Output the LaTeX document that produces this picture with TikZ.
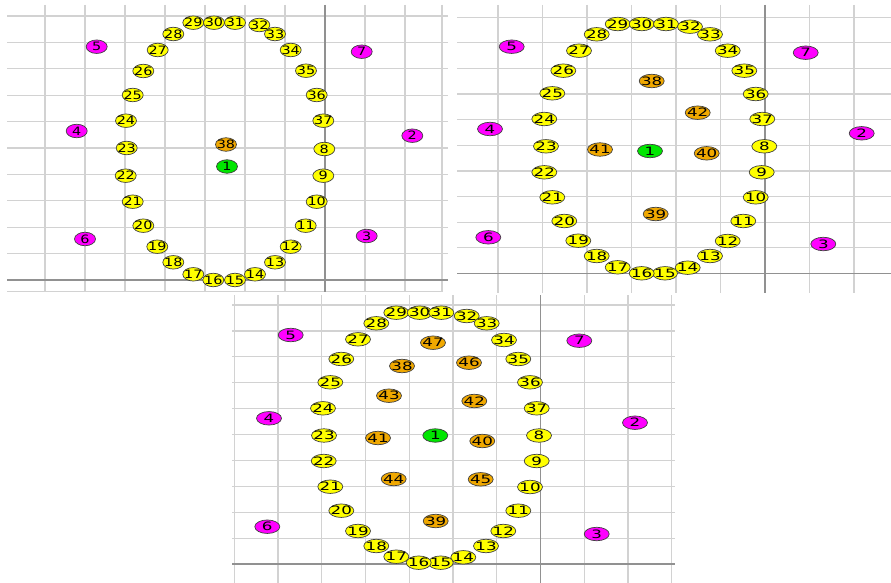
\documentclass[tikz,border=0pt]{standalone}
\usepackage{fontspec}
\usetikzlibrary{shapes.geometric}
\newfontfamily\numA[FakeStretch=1.25]{DejaVu Sans}
\newfontfamily\numB[FakeStretch=1.45]{DejaVu Sans}
\definecolor{gridL}{RGB}{210,210,210}
\definecolor{gridD}{RGB}{145,145,145}
\definecolor{ptY}{RGB}{255,255,0}
\definecolor{ptO}{RGB}{240,168,0}
\definecolor{ptG}{RGB}{0,230,0}
\definecolor{ptM}{RGB}{255,0,255}
\newcommand{\numlbl}[1]{\makebox[0pt]{#1}}

\begin{document}
\begin{tikzpicture}[x=1pt,y=-1pt,
  pt/.style={ellipse,draw=black!75,line width=0.7pt,inner sep=0pt,minimum height=13.5pt},
  ptA/.style={pt,minimum width=21pt,font=\numA\fontsize{11.5}{12}\selectfont},
  ptB/.style={pt,minimum width=25pt,font=\numB\fontsize{11.5}{12}\selectfont},
  gl/.style={gridL,line width=1.2pt},ga/.style={gridD,line width=1.2pt}]
\useasboundingbox (0,0) rectangle (891,583);
\fill[white] (0,0) rectangle (891,583);
% left plot: grid
\foreach \k in {0,...,9} \draw[gl] (45+40*\k,5) -- (45+40*\k,292);
\draw[gl] (442,5) -- (442,292);
\foreach \k in {0,...,9} \draw[gl] (7,16+26.4*\k) -- (448,16+26.4*\k);
\draw[gl] (7,291.5) -- (442,291.5);
\draw[ga] (325,5) -- (325,292); \draw[ga] (7,280) -- (448,280);
% left plot: points
\foreach \n/\x/\y in {8/324.3/149,9/323.3/175.7,10/316.7/201.7,11/305.7/225.7,12/290.7/246.7,13/275/262.3,
  14/255/274.3,15/235/280,16/213.3/280,17/193.3/274.3,18/173.3/262.3,19/157.3/246.7,20/143.3/225.7,
  21/132.7/201.7,22/125.7/175.7,23/126.7/148,24/126/120.7,25/132.7/95,26/143.3/71,27/157.7/50,
  28/173.3/34,29/193.3/22.7,30/214/22.7,31/235/22.7,32/259.3/25,33/275/34,34/290.7/50,35/306/70.7,
  36/316.7/95,37/323.3/120.7}
  \node[ptA,fill=ptY] (a\n) at (\x,\y) {\numlbl{\n}};
\foreach \n/\x/\y in {2/412.3/135.7,3/366.7/236,4/76.7/131,5/96.7/46.7,6/85/239,7/361.7/51.7}
  \node[ptA,fill=ptM] (a\n) at (\x,\y) {\numlbl{\n}};
\node[ptA,fill=ptO] (a38) at (226,144.5) {\numlbl{38}};
\node[ptA,fill=ptG] (a1) at (227,166.5) {\numlbl{1}};
% right plot: grid
\foreach \k in {0,...,8} \draw[gl] (498+44.5*\k,5) -- (498+44.5*\k,293);
\foreach \k in {0,...,9} \draw[gl] (457,17.3+25.6*\k) -- (891,17.3+25.6*\k);
\draw[ga] (765,5) -- (765,293); \draw[ga] (457,273.3) -- (891,273.3);
% right plot: points
\foreach \n/\x/\y in {8/764.3/146.3,9/761.7/172.3,10/755.7/197.3,11/743.3/221,12/727.7/241,13/710/256,
  14/687.7/267.7,15/665/273.3,16/641.7/273.3,17/617.7/267.3,18/596.7/256,19/578.3/240.7,20/564.3/221,
  21/552.3/197.3,22/544.3/172.3,23/546/146.3,24/544.3/119,25/552.3/93.3,26/563.3/70.7,27/579/50.7,
  28/596.7/34.3,29/617.7/24,30/641.7/24,31/666/24,32/690/26.7,33/710/34.3,34/727.7/50.7,35/744.3/70.7,
  36/755.7/94,37/762.3/119}
  \node[ptB,fill=ptY] (b\n) at (\x,\y) {\numlbl{\n}};
\foreach \n/\x/\y in {2/861.7/133.3,3/823.3/244,4/490/129,5/511.7/46.7,6/488.3/237.3,7/805.7/52.7}
  \node[ptB,fill=ptM] (b\n) at (\x,\y) {\numlbl{\n}};
\foreach \n/\x/\y in {38/651.7/81,39/655.7/214,40/706.7/153.3,41/600/149.5,42/697.7/112.7}
  \node[ptB,fill=ptO] (b\n) at (\x,\y) {\numlbl{\n}};
\node[ptB,fill=ptG] (b1) at (650,151) {\numlbl{1}};
% bottom plot: grid
\foreach \k in {-1,...,9} \draw[gl] (278+43.74*\k,295) -- (278+43.74*\k,583);
\foreach \k in {0,...,9} \draw[gl] (232,305+25.9*\k) -- (675,305+25.9*\k);
\draw[ga] (540.4,295) -- (540.4,583); \draw[ga] (232,564) -- (675,564);
% bottom plot: points
\foreach \n/\x/\y in {8/539/435.5,9/536.7/461,10/530/487,11/518.3/510.7,12/503.3/531,13/486/546,
  14/463.3/557.3,15/440.7/562.7,16/418.7/562.7,17/396.3/556.7,18/376.3/546,19/358/531,20/341.3/510.7,
  21/330.3/486.7,22/323.7/461,23/324/435.5,24/323/408.3,25/330.3/382.3,26/341.3/359,27/358/339.3,
  28/376.3/323.3,29/396.3/312.7,30/419.7/312.7,31/441.3/312.7,32/466.7/316,33/486.7/323.3,34/504/340,
  35/518.3/359,36/530/382.3,37/536.7/408.3}
  \node[ptB,fill=ptY] (c\n) at (\x,\y) {\numlbl{\n}};
\foreach \n/\x/\y in {2/635/422.7,3/596.7/534,4/269/418.3,5/290.7/335,6/267.3/526.7,7/579.3/340.7}
  \node[ptB,fill=ptM] (c\n) at (\x,\y) {\numlbl{\n}};
\foreach \n/\x/\y in {38/402/366,39/435.7/521,40/482.3/441,41/378/438,42/474.3/401,43/389/395.7,
  44/393.7/479,45/480.7/479.3,46/469/362.7,47/433/342.7}
  \node[ptB,fill=ptO] (c\n) at (\x,\y) {\numlbl{\n}};
\node[ptB,fill=ptG] (c1) at (435.3,435.5) {\numlbl{1}};
\end{tikzpicture}
\end{document}
